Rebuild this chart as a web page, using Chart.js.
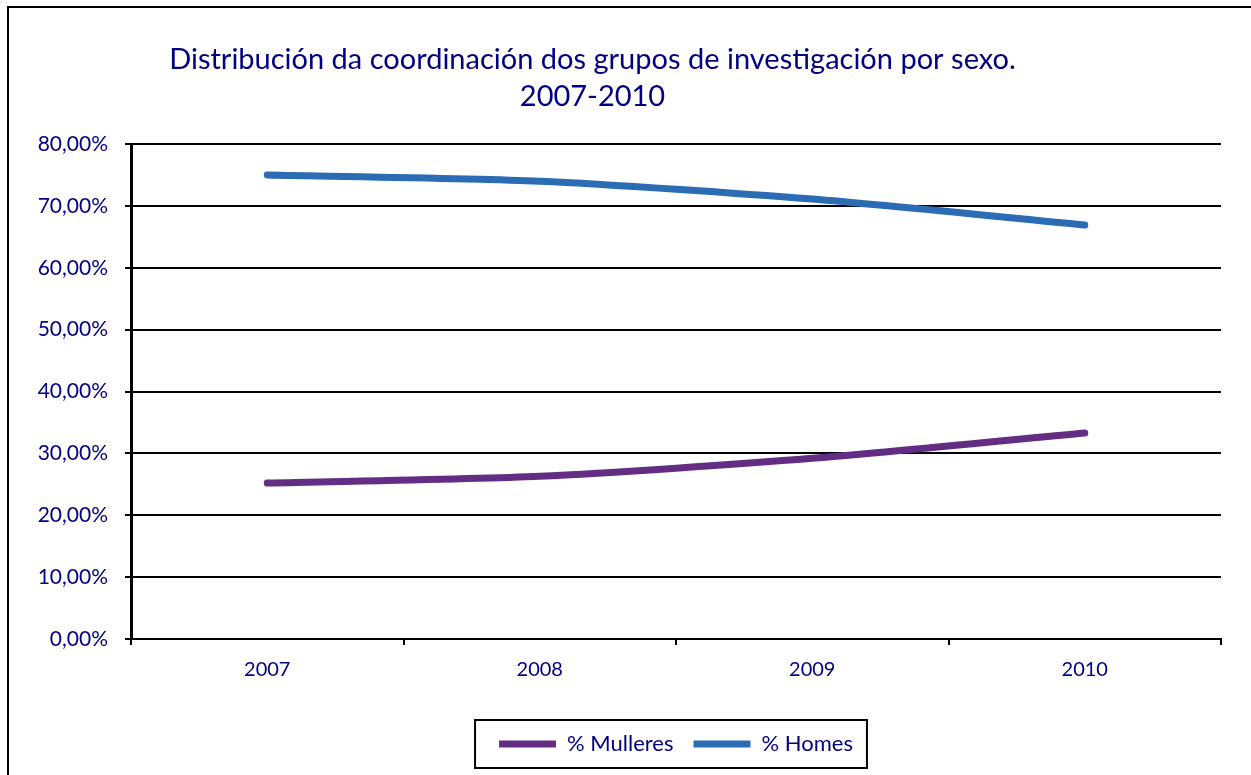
<!DOCTYPE html>
<html>
<head>
<meta charset="utf-8">
<script src="https://cdn.jsdelivr.net/npm/chart.js@4.4.1/dist/chart.umd.min.js"></script>
<style>
  html, body { margin: 0; padding: 0; background: #fff; }
  canvas { display: block; }
</style>
</head>
<body>
<canvas id="chart" width="1251" height="775"></canvas>
<script>
// Data (percent)
const years = ['2007', '2008', '2009', '2010'];
const mulleres = [25.2, 26.3, 29.2, 33.3];
const homes = [75.0, 74.0, 71.1, 66.9];
const titleLines = ['Distribución da coordinación dos grupos de investigación por sexo.', '2007-2010'];

const navy = '#000080';
const fontFamily = 'Lato, "Open Sans", sans-serif';

// Outer frame of the chart object
const framePlugin = {
    id: 'frame',
    beforeDraw(chart) {
        const ctx = chart.ctx;
        ctx.save();
        ctx.strokeStyle = '#000';
        ctx.lineWidth = 2;
        ctx.strokeRect(8, 7, 1400, 1000);
        ctx.restore();
    }
};

// Box round the legend
const legendBoxPlugin = {
    id: 'legendBox',
    afterDraw(chart) {
        const boxes = chart.legend.legendHitBoxes;
        if (!boxes || !boxes.length) return;
        const first = boxes[0];
        const last = boxes[boxes.length - 1];
        const left = first.left - 24;
        const right = last.left + last.width + 14;
        const top = first.top - 13;
        const bottom = first.top + first.height + 13;
        const ctx = chart.ctx;
        ctx.save();
        ctx.strokeStyle = '#000';
        ctx.lineWidth = 2;
        ctx.strokeRect(left, top, right - left, bottom - top);
        ctx.restore();
    }
};

const ctx = document.getElementById('chart').getContext('2d');
const chart = new Chart(ctx, {
    type: 'line',
    data: {
        labels: years,
        datasets: [{
            label: '% Mulleres',
            data: mulleres,
            borderColor: '#632D84',
            backgroundColor: '#632D84',
            borderWidth: 7,
            borderCapStyle: 'round',
            pointRadius: 0,
            tension: 0.25
        }, {
            label: '% Homes',
            data: homes,
            borderColor: '#2B6CB4',
            backgroundColor: '#2B6CB4',
            borderWidth: 7,
            borderCapStyle: 'round',
            pointRadius: 0,
            tension: 0.25
        }]
    },
    options: {
        responsive: false,
        animation: false,
        layout: {
            padding: { left: -36, right: 30, top: 0, bottom: 10 }
        },
        plugins: {
            title: {
                display: true,
                text: titleLines,
                color: navy,
                font: { family: fontFamily, size: 29, weight: 'normal', lineHeight: 1.276 },
                padding: { top: 41, bottom: 29 }
            },
            legend: {
                display: true,
                position: 'bottom',
                fullSize: false,
                labels: {
                    usePointStyle: true,
                    pointStyle: 'line',
                    pointStyleWidth: 57,
                    padding: 20,
                    color: navy,
                    font: { family: fontFamily, size: 22 }
                }
            },
            tooltip: { enabled: false }
        },
        scales: {
            x: {
                offset: true,
                afterFit: function(scale) { scale.height = 74; },
                grid: {
                    offset: true,
                    color: function(c) { return c.index === years.length ? '#000' : 'rgba(0,0,0,0)'; },
                    tickColor: '#000',
                    lineWidth: 2,
                    tickLength: 6
                },
                border: { display: true, color: '#000', width: 2 },
                ticks: {
                    color: navy,
                    padding: 13,
                    font: { family: fontFamily, size: 20 }
                }
            },
            y: {
                min: 0,
                max: 80,
                afterFit: function(scale) { scale.width = 167; },
                grid: {
                    color: '#000',
                    lineWidth: 2,
                    tickLength: 6
                },
                border: { display: true, color: '#000', width: 3 },
                ticks: {
                    stepSize: 10,
                    color: navy,
                    padding: 17,
                    font: { family: fontFamily, size: 21 },
                    callback: function(value) {
                        return value.toFixed(2).replace('.', ',') + '%';
                    }
                }
            }
        }
    },
    plugins: [framePlugin, legendBoxPlugin]
});
</script>
</body>
</html>
